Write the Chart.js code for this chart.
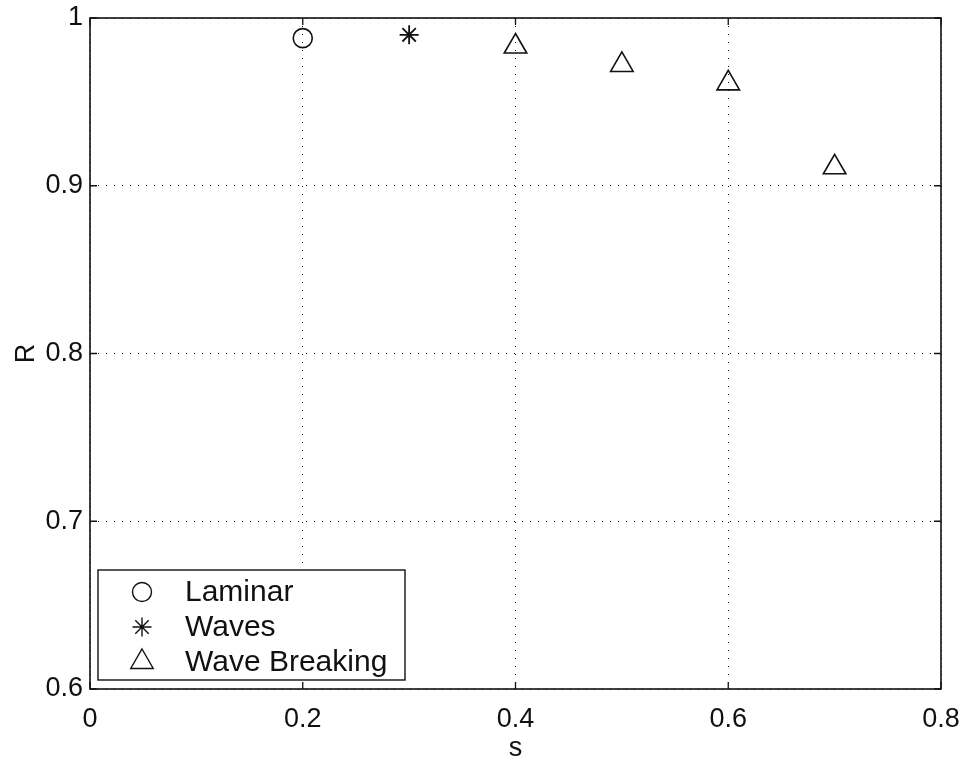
<!DOCTYPE html>
<html>
<head>
<meta charset="utf-8">
<script src="https://cdn.jsdelivr.net/npm/chart.js@4/dist/chart.umd.min.js"></script>
<style>
  html, body { margin: 0; padding: 0; background: #fff; }
  #wrap { width: 965px; height: 759px; position: relative; }
</style>
</head>
<body>
<div id="wrap"><canvas id="chart-r-s"></canvas></div>
<script>
// Relación R frente a s para los tres regímenes de flujo
const laminarS = [0.2];
const laminarR = [0.988];
const wavesS = [0.3];
const wavesR = [0.990];
const breakingS = [0.4, 0.5, 0.6, 0.7];
const breakingR = [0.983, 0.972, 0.961, 0.911];

const seriesLabels = ['Laminar', 'Waves', 'Wave Breaking'];
const xTicks = [0, 0.2, 0.4, 0.6, 0.8];
const yTicks = [0.6, 0.7, 0.8, 0.9, 1];

const fontFamily = '"Liberation Sans", Arial, Helvetica, sans-serif';
const ink = '#111';

function toPoints(xs, ys) {
    return xs.map((x, i) => ({ x: x, y: ys[i] }));
}

function fmtTick(v) {
    return String(+Number(v).toFixed(1));
}

// Marco completo con marcas hacia dentro en los cuatro lados
const framePlugin = {
    id: 'frame',
    afterDraw(chart) {
        const ctx = chart.ctx;
        const a = chart.chartArea;
        const xs = chart.scales.x;
        const ys = chart.scales.y;
        const len = 7;
        ctx.save();
        ctx.strokeStyle = ink;
        ctx.lineWidth = 1.6;
        ctx.strokeRect(a.left, a.top, a.right - a.left, a.bottom - a.top);
        ctx.lineWidth = 1.3;
        ctx.beginPath();
        xTicks.forEach(v => {
            const px = xs.getPixelForValue(v);
            ctx.moveTo(px, a.bottom); ctx.lineTo(px, a.bottom - len);
            ctx.moveTo(px, a.top); ctx.lineTo(px, a.top + len);
        });
        yTicks.forEach(v => {
            const py = ys.getPixelForValue(v);
            ctx.moveTo(a.left, py); ctx.lineTo(a.left + len, py);
            ctx.moveTo(a.right, py); ctx.lineTo(a.right - len, py);
        });
        ctx.stroke();
        ctx.restore();
    }
};

// Leyenda con recuadro en la esquina inferior izquierda
const boxLegendPlugin = {
    id: 'boxLegend',
    afterDraw(chart) {
        const ctx = chart.ctx;
        const a = chart.chartArea;
        const w = 307, h = 110;
        const left = a.left + 8;
        const top = a.bottom - 9 - h;
        ctx.save();
        ctx.fillStyle = '#fff';
        ctx.fillRect(left, top, w, h);
        ctx.strokeStyle = ink;
        ctx.lineWidth = 1.4;
        ctx.strokeRect(left, top, w, h);
        ctx.font = '30px ' + fontFamily;
        ctx.textBaseline = 'middle';
        chart.data.datasets.forEach((ds, i) => {
            const y = top + 22 + i * 35;
            ctx.strokeStyle = ink;
            ctx.fillStyle = 'rgba(0,0,0,0)';
            Chart.helpers.drawPoint(ctx, {
                pointStyle: ds.pointStyle,
                radius: ds.pointRadius,
                rotation: 0,
                borderWidth: ds.borderWidth
            }, left + 44, y);
            ctx.fillStyle = ink;
            ctx.fillText(ds.label, left + 87, y + 1);
        });
        ctx.restore();
    }
};

const ctx = document.getElementById('chart-r-s').getContext('2d');
const chart = new Chart(ctx, {
    type: 'scatter',
    data: {
        datasets: [
            {
                label: seriesLabels[0],
                data: toPoints(laminarS, laminarR),
                pointStyle: 'circle',
                pointRadius: 9.5,
                borderColor: ink,
                backgroundColor: 'rgba(0,0,0,0)',
                borderWidth: 1.6
            },
            {
                label: seriesLabels[1],
                data: toPoints(wavesS, wavesR),
                pointStyle: 'star',
                pointRadius: 9.5,
                borderColor: ink,
                backgroundColor: 'rgba(0,0,0,0)',
                borderWidth: 1.8
            },
            {
                label: seriesLabels[2],
                data: toPoints(breakingS, breakingR),
                pointStyle: 'triangle',
                pointRadius: 13,
                borderColor: ink,
                backgroundColor: 'rgba(0,0,0,0)',
                borderWidth: 1.6
            }
        ]
    },
    options: {
        responsive: true,
        maintainAspectRatio: false,
        animation: false,
        layout: { padding: { top: 18, right: 24, left: 0, bottom: 0 } },
        plugins: {
            legend: { display: false },
            tooltip: { enabled: false }
        },
        scales: {
            x: {
                type: 'linear',
                min: 0,
                max: 0.8,
                afterBuildTicks: scale => { scale.ticks = xTicks.map(v => ({ value: v })); },
                afterFit: scale => {
                    scale.height = 70;
                    scale.paddingLeft = 0;
                    scale.paddingRight = 0;
                },
                border: { display: false, dash: [1, 7] },
                grid: {
                    color: ink,
                    lineWidth: 1,
                    drawTicks: false
                },
                ticks: {
                    color: ink,
                    padding: 14,
                    maxRotation: 0,
                    font: { family: fontFamily, size: 27 },
                    callback: v => fmtTick(v)
                },
                title: {
                    display: true,
                    text: 's',
                    color: ink,
                    padding: 0,
                    font: { family: fontFamily, size: 27, lineHeight: 0.8 }
                }
            },
            y: {
                type: 'linear',
                min: 0.6,
                max: 1,
                afterBuildTicks: scale => { scale.ticks = yTicks.map(v => ({ value: v })); },
                afterFit: scale => {
                    scale.width = 90;
                    scale.paddingTop = 0;
                    scale.paddingBottom = 0;
                },
                border: { display: false, dash: [1, 7] },
                grid: {
                    color: ink,
                    lineWidth: 1,
                    drawTicks: false
                },
                ticks: {
                    color: ink,
                    padding: 7,
                    font: { family: fontFamily, size: 27 },
                    callback: v => fmtTick(v)
                },
                title: {
                    display: true,
                    text: 'R',
                    color: ink,
                    padding: { top: 13, bottom: 0 },
                    font: { family: fontFamily, size: 27, lineHeight: 1 }
                }
            }
        }
    },
    plugins: [framePlugin, boxLegendPlugin]
});
</script>
</body>
</html>
